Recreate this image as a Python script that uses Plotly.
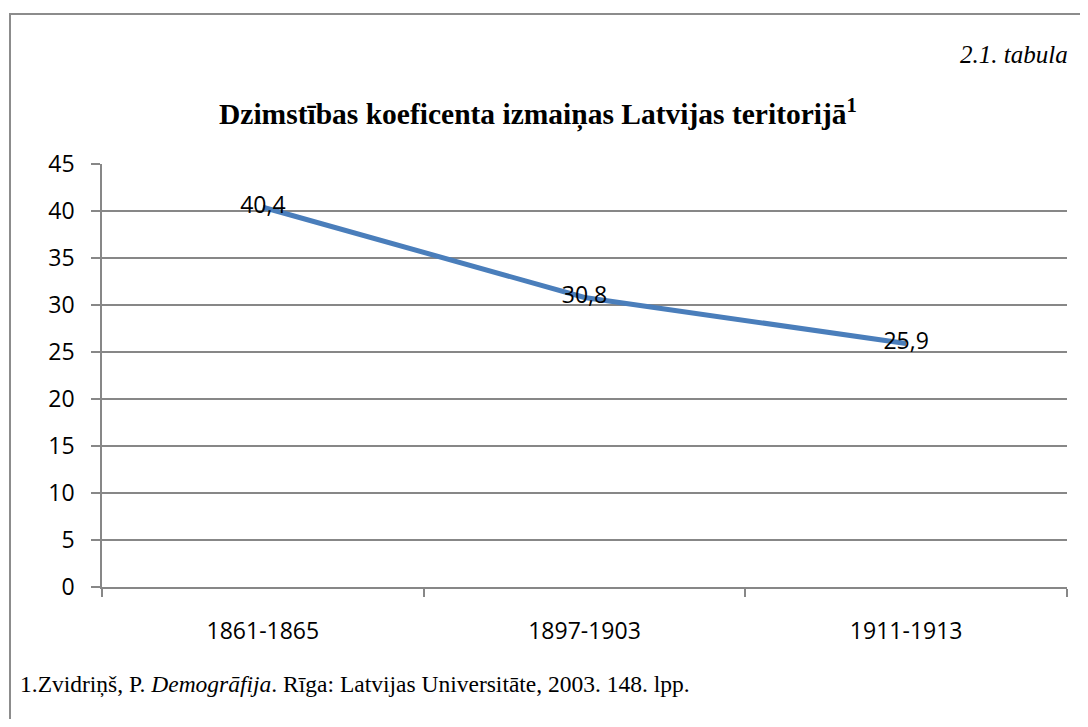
import plotly.graph_objects as go

periods = ["1861-1865", "1897-1903", "1911-1913"]
birth_rate = [40.4, 30.8, 25.9]

title_text = "Dzimstības koeficenta izmaiņas Latvijas teritorijā<sup>1</sup>"
table_label = "<i>2.1. tabula</i>"
source_note = "1.Zvidriņš, P. <i>Demogrāfija</i>. Rīga: Latvijas Universitāte, 2003. 148. lpp."

# the page body has an 8px margin, so the figure is shifted by that much
OFF = 8
W, H = 1088 - 2 * OFF, 727 - 2 * OFF
L, R, T, B = 102 - OFF, 1067 - OFF, 164 - OFF, 587 - OFF
GRAY = "#878787"


def px_x(x):
    # screen pixel -> paper x
    return (x - OFF - L) / (R - L)


def px_y(y):
    # screen pixel -> paper y
    return (B - (y - OFF)) / (B - T)


fig = go.Figure()
fig.add_trace(
    go.Scatter(
        x=periods,
        y=birth_rate,
        mode="lines+text",
        line=dict(color="#4A7EBB", width=5),
        texttemplate="%{y:.1f}",
        textposition="middle center",
        textfont=dict(family="Open Sans", size=23, color="black"),
        showlegend=False,
        hoverinfo="skip",
    )
)

fig.update_layout(
    width=W,
    height=H,
    margin=dict(l=L, r=W - R, t=T, b=H - B, pad=0),
    paper_bgcolor="white",
    plot_bgcolor="white",
    separators=", ",
    font=dict(family="Open Sans", size=23, color="black"),
    xaxis=dict(
        type="category",
        range=[-0.5, 2.5],
        showgrid=False,
        showline=True,
        linecolor=GRAY,
        linewidth=1.5,
        ticks="outside",
        tickson="boundaries",
        ticklen=8,
        tickcolor=GRAY,
        tickwidth=1.5,
        ticklabelstandoff=23,
        zeroline=False,
    ),
    yaxis=dict(
        range=[0, 45],
        dtick=5,
        showgrid=True,
        gridcolor=GRAY,
        gridwidth=1.5,
        showline=True,
        linecolor=GRAY,
        linewidth=1.5,
        ticks="outside",
        ticklen=9,
        tickcolor=GRAY,
        tickwidth=1.5,
        ticklabelstandoff=12,
        zeroline=False,
    ),
    annotations=[
        dict(
            text=title_text,
            xref="paper", yref="paper",
            x=px_x(538), y=px_y(113),
            xanchor="center", yanchor="middle",
            showarrow=False,
            font=dict(family="Liberation Serif", size=29.5, color="black", weight="bold"),
        ),
        dict(
            text=table_label,
            xref="paper", yref="paper",
            x=px_x(1070), y=px_y(54),
            xanchor="right", yanchor="middle",
            showarrow=False,
            font=dict(family="Liberation Serif", size=25, color="black"),
        ),
        dict(
            text=source_note,
            xref="paper", yref="paper",
            x=px_x(18), y=px_y(684),
            xanchor="left", yanchor="middle",
            showarrow=False,
            font=dict(family="Liberation Serif", size=23.5, color="black"),
        ),
    ],
    shapes=[
        dict(
            type="rect",
            xref="paper", yref="paper",
            x0=px_x(10), x1=px_x(1110),
            y0=px_y(760), y1=px_y(14),
            line=dict(color="#8C8C8C", width=2),
            fillcolor="rgba(0,0,0,0)",
            layer="below",
        )
    ],
)

fig.write_html("out.html")
